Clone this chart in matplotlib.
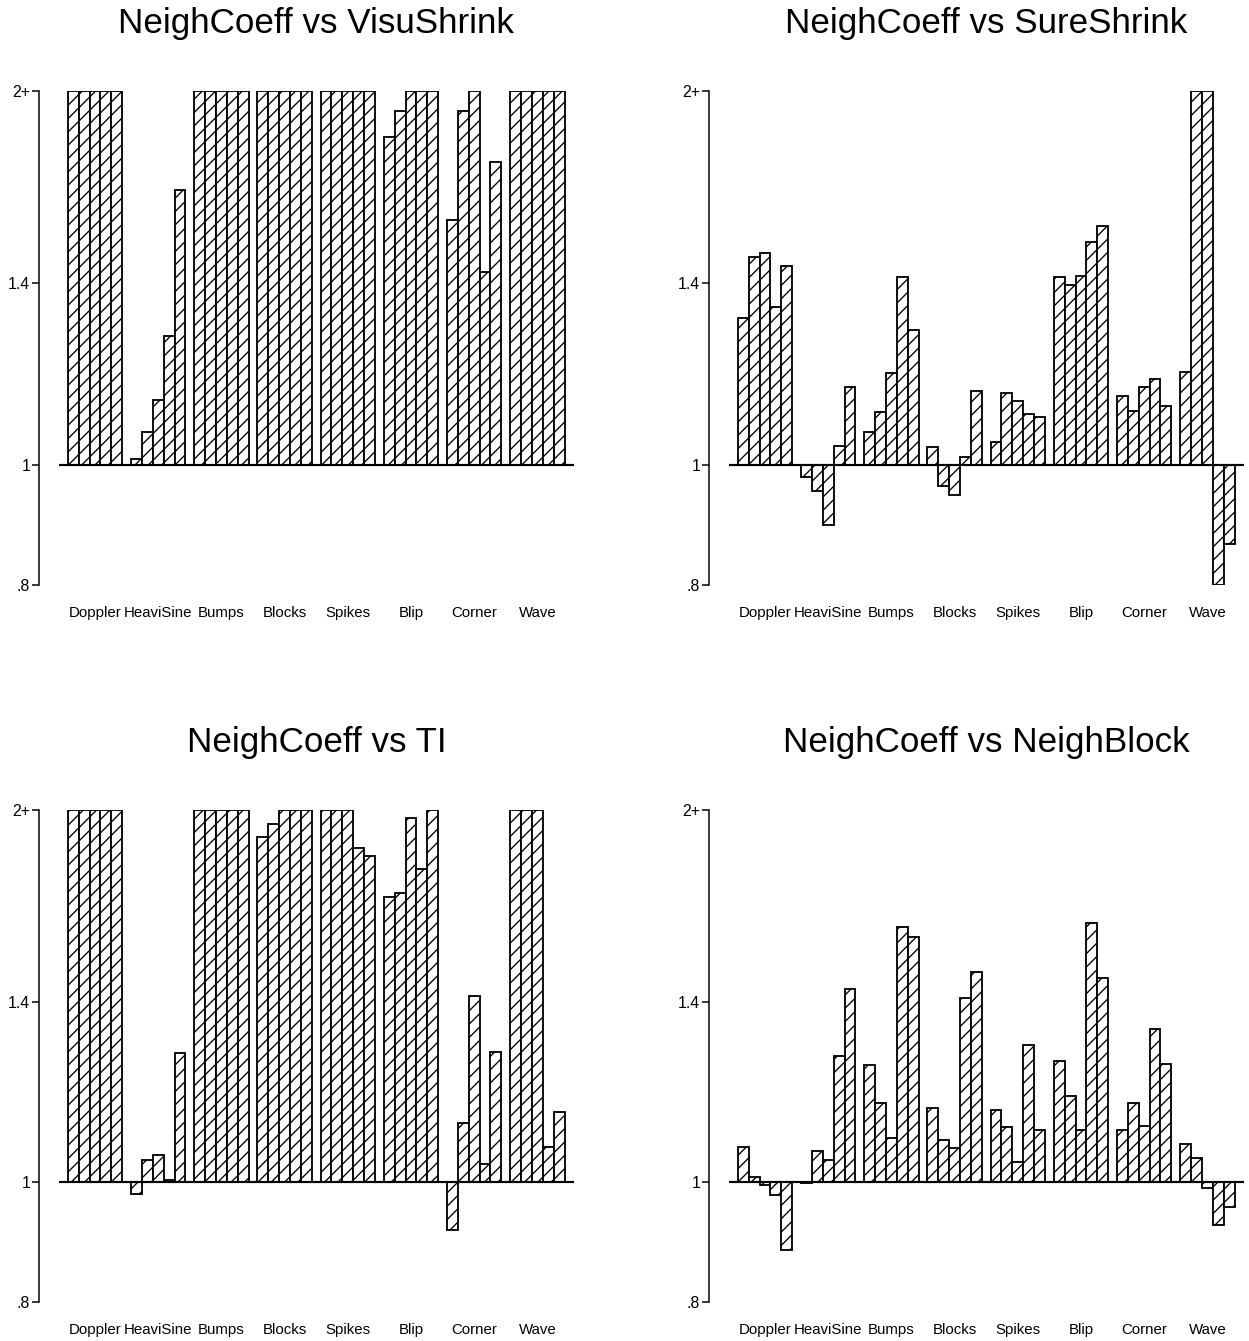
import matplotlib
matplotlib.use('Agg')
import matplotlib.pyplot as plt
import numpy as np

plt.rcParams.update({
    'font.family': ['Liberation Sans', 'DejaVu Sans'],
    'hatch.linewidth': 0.8,
    'hatch.color': 'black',
})

signals = ['Doppler', 'HeaviSine', 'Bumps', 'Blocks', 'Spikes', 'Blip', 'Corner', 'Wave']

# ratio of risks, five sample sizes per signal; 2 means "2+"
visu = [
    [2.0, 2.0, 2.0, 2.0, 2.0],
    [1.011, 1.063, 1.128, 1.269, 1.664],
    [2.0, 2.0, 2.0, 2.0, 2.0],
    [2.0, 2.0, 2.0, 2.0, 2.0],
    [2.0, 2.0, 2.0, 2.0, 2.0],
    [1.836, 1.928, 2.0, 2.0, 2.0],
    [1.575, 1.928, 2.0, 1.430, 1.754],
    [2.0, 2.0, 2.0, 2.0, 2.0],
]
sure = [
    [1.312, 1.469, 1.482, 1.339, 1.446],
    [0.977, 0.953, 0.895, 1.036, 1.156],
    [1.063, 1.103, 1.186, 1.417, 1.285],
    [1.034, 0.962, 0.946, 1.015, 1.147],
    [1.043, 1.142, 1.125, 1.098, 1.093],
    [1.417, 1.395, 1.418, 1.512, 1.556],
    [1.135, 1.104, 1.154, 1.172, 1.114],
    [1.188, 2.0, 2.0, 0.80, 0.864],
]
ti = [
    [2.0, 2.0, 2.0, 2.0, 2.0],
    [0.979, 1.042, 1.051, 1.005, 1.271],
    [2.0, 2.0, 2.0, 2.0, 2.0],
    [1.903, 1.947, 2.0, 2.0, 2.0],
    [2.0, 2.0, 2.0, 1.864, 1.835],
    [1.701, 1.712, 1.970, 1.791, 2.0],
    [0.914, 1.117, 1.415, 1.034, 1.275],
    [2.0, 2.0, 2.0, 1.068, 1.139],
]
neighblock = [
    [1.067, 1.009, 0.995, 0.976, 0.881],
    [0.999, 1.060, 1.042, 1.264, 1.434],
    [1.244, 1.159, 1.085, 1.608, 1.578],
    [1.149, 1.081, 1.065, 1.409, 1.479],
    [1.143, 1.108, 1.039, 1.292, 1.102],
    [1.254, 1.175, 1.102, 1.619, 1.462],
    [1.102, 1.159, 1.111, 1.331, 1.246],
    [1.074, 1.047, 0.990, 0.924, 0.955],
]

panels = [
    ('NeighCoeff vs VisuShrink', visu),
    ('NeighCoeff vs SureShrink', sure),
    ('NeighCoeff vs TI', ti),
    ('NeighCoeff vs NeighBlock', neighblock),
]

W, H, DPI = 1249, 1341, 120
fig = plt.figure(figsize=(W / DPI, H / DPI), dpi=DPI)
# axes boxes in pixels: left, top, width, height
boxes = [(59, 91, 515, 494), (729, 91, 515, 494), (59, 810, 515, 492), (729, 810, 515, 492)]

w = 0.172
for (title, data), (l, t, bw, bh) in zip(panels, boxes):
    ax = fig.add_axes([l / W, 1 - (t + bh) / H, bw / W, bh / H])
    ax.set_yscale('log')
    vals = np.array(data)
    for j in range(5):
        x = np.arange(len(signals)) + (j - 2) * w
        ax.bar(x, vals[:, j] - 1, bottom=1, width=w, color='white',
               edgecolor='black', linewidth=1.1, hatch='///')
    ax.axhline(1, color='black', lw=1.3)
    ax.set_xlim(-0.57, 7.58)
    ax.set_ylim(0.8, 2.0)
    ax.set_yticks([0.8, 1, 1.4, 2])
    ax.set_yticklabels(['.8', '1', '1.4', '2+'])
    ax.yaxis.set_minor_locator(matplotlib.ticker.NullLocator())
    ax.set_xticks(np.arange(len(signals)))
    ax.set_xticklabels(signals)
    ax.tick_params(axis='x', length=0, pad=12.5, labelsize=9)
    ax.tick_params(axis='y', length=4.5, width=0.9, pad=0.8, labelsize=9.5)
    for s in ['top', 'right', 'bottom']:
        ax.spines[s].set_visible(False)
    ax.spines['left'].set_position(('outward', 12))
    ax.spines['left'].set_bounds(0.8, 2.0)
    ax.spines['left'].set_linewidth(0.9)
    ax.set_title(title, fontsize=21, pad=35)

fig.savefig('out.png', dpi=DPI)
